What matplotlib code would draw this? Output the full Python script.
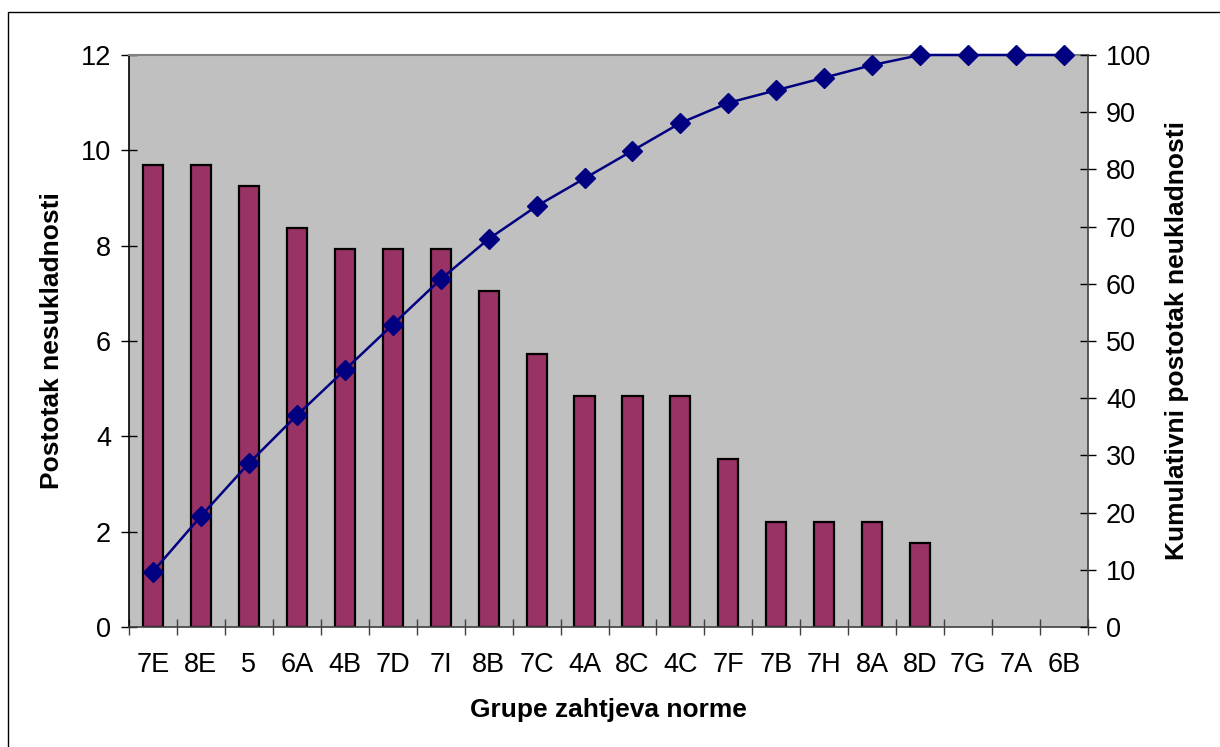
import numpy as np
import matplotlib
matplotlib.use("Agg")
import matplotlib.pyplot as plt
from matplotlib.patches import Rectangle
from matplotlib.ticker import MultipleLocator, FixedLocator

plt.rcParams['font.family'] = ['Liberation Sans', 'DejaVu Sans']

# data
groups = ['7E', '8E', '5', '6A', '4B', '7D', '7I', '8B', '7C', '4A',
          '8C', '4C', '7F', '7B', '7H', '8A', '8D', '7G', '7A', '6B']
share = [9.69, 9.69, 9.25, 8.37, 7.93, 7.93, 7.93, 7.05, 5.73, 4.85,
         4.85, 4.85, 3.52, 2.20, 2.20, 2.20, 1.76, 0, 0, 0]
cumulative = [9.69, 19.38, 28.63, 37.00, 44.93, 52.86, 60.79, 67.84, 73.57, 78.42,
              83.27, 88.12, 91.64, 93.84, 96.04, 98.24, 100, 100, 100, 100]

W, H = 1220, 747
fig = plt.figure(figsize=(W / 100, H / 100), dpi=100)
fig.patch.set_facecolor('white')

# outer frame (cut off at right and bottom like the original)
fig.patches.append(Rectangle((8 / W, -0.05), 1.2, 1 - 12 / H + 0.05,
                             transform=fig.transFigure, fill=False,
                             edgecolor='black', linewidth=1.0))

left, right, top, bottom = 129, 1088, 55, 627
ax = fig.add_axes([left / W, 1 - bottom / H, (right - left) / W, (bottom - top) / H])
ax.set_facecolor('#C0C0C0')

x = np.arange(len(groups))
# empty groups get no outline
edge_w = [1.6 if v > 0 else 0 for v in share]
ax.bar(x, share, width=0.42, color='#993366', edgecolor='black', linewidth=edge_w, zorder=2)

ax.set_xlim(-0.5, len(groups) - 0.5)
ax.set_ylim(0, 12)
ax.yaxis.set_major_locator(MultipleLocator(2))
ax.set_xticks(x)
ax.set_xticklabels(groups)
ax.xaxis.set_minor_locator(FixedLocator(np.arange(-0.5, len(groups), 1.0)))
ax.tick_params(axis='x', which='major', length=0, pad=18, labelsize=19.5)
ax.tick_params(axis='x', which='minor', direction='inout', length=12, width=1, color='#404040')
ax.tick_params(axis='y', direction='inout', length=12, width=1, pad=7, labelsize=19.5)

ax.spines['top'].set_color('#808080')
ax.spines['top'].set_linewidth(1.5)
ax.spines['left'].set_color('black')
ax.spines['left'].set_linewidth(1.2)
ax.spines['bottom'].set_color('#404040')
ax.spines['bottom'].set_linewidth(1.2)
ax.spines['right'].set_visible(False)

ax2 = ax.twinx()
ax2.plot(x, cumulative, color='#000080', linewidth=1.8, marker='D',
         markersize=10, markerfacecolor='#000080', markeredgecolor='#000080',
         clip_on=False, zorder=5)
ax2.set_ylim(0, 100)
ax2.yaxis.set_major_locator(MultipleLocator(10))
ax2.tick_params(axis='y', direction='inout', length=12, width=1, pad=7, labelsize=19.5)
for s in ['top', 'left', 'bottom']:
    ax2.spines[s].set_visible(False)
ax2.spines['right'].set_color('#404040')
ax2.spines['right'].set_linewidth(1.2)

fig.text(52 / W, 1 - 341 / H, 'Postotak nesukladnosti', rotation=90,
         ha='center', va='center', fontsize=19, fontweight='bold')
fig.text(1177 / W, 1 - 341 / H, 'Kumulativni postotak neukladnosti', rotation=90,
         ha='center', va='center', fontsize=19, fontweight='bold')
fig.text(608 / W, 1 - 710 / H, 'Grupe zahtjeva norme',
         ha='center', va='center', fontsize=19, fontweight='bold')

fig.savefig('out.png', dpi=100)
